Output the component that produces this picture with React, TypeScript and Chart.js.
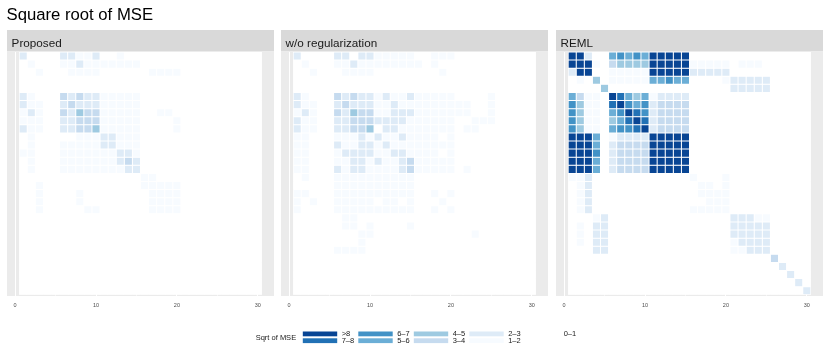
import React, { useEffect, useRef } from 'react';
import { Chart, registerables } from 'chart.js';

Chart.register(...registerables);

const FONT = '"Liberation Sans", Arial, Helvetica, sans-serif';

const MAIN_TITLE = 'Square root of MSE';
const PANEL_TITLES = ['Proposed', 'w/o regularization', 'REML'];
const LEGEND_TITLE = 'Sqrt of MSE';
const LEVEL_LABELS = ['0–1', '1–2', '2–3', '3–4', '4–5', '5–6', '6–7', '7–8', '>8'];
const LEVEL_COLORS = ['#FFFFFF', '#F7FBFF', '#DEEBF7', '#C6DBEF', '#9ECAE1', '#6BAED6', '#4292C6', '#2171B5', '#084594'];
const X_TICKS = [0, 10, 20, 30];
const N_PARAMS = 30;

// Level code per cell (0 = "0–1" ... 8 = ">8"); rows top to bottom, columns 1..30 (missing tail = 0)
const PROPOSED = [
  '20000 22112 00100',
  '01000 11211 11111',
  '00100 01111 00000 01111',
  '',
  '',
  '21000 32322 11111',
  '21100 23222 11111',
  '12100 32433 11111 00110',
  '11100 22333 11111 00001',
  '21100 22334 11111 00001',
  '01000 00111 22111',
  '01000 11111 22111',
  '11000 11111 11221',
  '01000 11111 11232',
  '01000 11111 11122',
  '00000 00000 00000 11',
  '00100 00000 00000 11111',
  '00100 00100 00000 01111',
  '00100 00100 00000 01111',
  '00100 00011 00000 01111',
  '', '', '', '', '', '', '', '', '', '',
];

const WO_REG = [
  '20000 22022 11111 00111',
  '01000 11211 11111 101',
  '00100 01111 00000 0001',
  '',
  '',
  '21000 32322 12112 11111 00001',
  '21100 23222 11211 11111 11001',
  '12100 32433 11222 11111 11001',
  '21100 22333 22221 11111 00111',
  '21100 22334 02211 11111 01100',
  '11000 11121 21121 11101',
  '11000 21122 12111 11111',
  '11000 12222 11221 11101',
  '11000 11221 21123 11111',
  '11000 21221 11123 11111 01',
  '01000 11111 11111',
  '00000 11111 11111',
  '11000 11111 11111 00101',
  '10100 11111 01101 00010',
  '10000 11111 11111 00101',
  '00000 011',
  '00000 01101 00001',
  '00000 00011 00000 00000 001',
  '00000 0001',
  '00000 1111',
  '', '', '', '', '',
];

const REML = [
  '88200 56565 88888',
  '88810 34444 88888 11111 01110',
  '28800 11111 88888 22222',
  '01040 11111 55655 00001 22222',
  '00004 00000 00000 00000 22222',
  '53110 87545 12222',
  '64110 78656 23333',
  '64110 56876 23333',
  '64110 45787 23333',
  '64110 56678 23333',
  '88850 12222 88888',
  '88850 23333 88888',
  '88860 23333 88888',
  '88850 23333 88888',
  '88850 23333 88888',
  '11200 00000 00000 10001',
  '01200 00000 00000 01101',
  '01200 00000 00000 01111',
  '01200 00000 00000 00111',
  '01200 00000 00000 11111',
  '00012 00000 00000 00000 22211',
  '01022 00000 00000 00000 22222',
  '01022 00000 00000 00000 22222',
  '01022 00000 00000 00000 12222',
  '00022 00000 00000 00000 11222',
  '00000 00000 00000 00000 00000 3',
  '00000 00000 00000 00000 00000 02',
  '00000 00000 00000 00000 00000 002',
  '00000 00000 00000 00000 00000 0002',
  '00000 00000 00000 00000 00000 00002',
];

const PANEL_DATA = [PROPOSED, WO_REG, REML];
const PANEL_LEFTS = [7, 281, 556];
const PANEL_W = 267;
const PANEL_TOP = 30;
const PANEL_H = 280;

function parseRow(r: string): number[] {
  return r.replace(/ /g, '').padEnd(N_PARAMS, '0').split('').map(Number);
}

function panelDecor(title: string) {
  return {
    id: 'panelDecor',
    beforeDraw(chart: any) {
      const { ctx, chartArea: a, width } = chart;
      const xs = chart.scales.x;
      const ys = chart.scales.y;
      ctx.save();
      ctx.fillStyle = '#D9D9D9';
      ctx.fillRect(0, 0, width, 21.5);
      ctx.fillStyle = '#EBEBEB';
      ctx.fillRect(a.left, a.top, a.right - a.left, a.bottom - a.top);
      // white backdrop under the tile grid, from the scales
      const x0 = xs.getPixelForValue(0.5);
      const x1 = xs.getPixelForValue(N_PARAMS + 0.5);
      const y0 = ys.getPixelForValue(0.5);
      const y1 = ys.getPixelForValue(N_PARAMS + 0.5);
      ctx.fillStyle = '#FFFFFF';
      ctx.fillRect(x0, Math.min(y0, y1), x1 - x0, Math.abs(y1 - y0));
      ctx.fillStyle = '#1A1A1A';
      ctx.font = `11.7px ${FONT}`;
      ctx.textBaseline = 'alphabetic';
      ctx.textAlign = 'left';
      ctx.fillText(title, 4.6, 16.7);
      ctx.restore();
    },
  };
}

const legendPlugin = {
  id: 'mseLegend',
  afterDraw(chart: any) {
    const ctx = chart.ctx;
    ctx.save();
    ctx.font = `7.5px ${FONT}`;
    ctx.fillStyle = '#1A1A1A';
    ctx.textBaseline = 'middle';
    ctx.textAlign = 'left';
    ctx.fillText(LEGEND_TITLE, 255.7, 337.6);
    const order = [8, 7, 6, 5, 4, 3, 2, 1, 0];
    const keyW = 35.4;
    const keyH = 5.8;
    order.forEach((lvl, k) => {
      const col = Math.floor(k / 2);
      const row = k % 2;
      const x = 302.3 + col * 55.5;
      const y = 331 + row * 6.8;
      ctx.fillStyle = '#FFFFFF';
      ctx.fillRect(x, y, keyW, keyH);
      ctx.fillStyle = LEVEL_COLORS[lvl];
      ctx.fillRect(x + 0.5, y + 0.5, keyW - 1, keyH - 1);
      ctx.fillStyle = '#1A1A1A';
      ctx.fillText(LEVEL_LABELS[lvl], x + 39.4, y + keyH / 2);
    });
    ctx.restore();
  },
};

function Frame() {
  const ref = useRef<HTMLCanvasElement>(null);
  useEffect(() => {
    const chart = new Chart(ref.current as HTMLCanvasElement, {
      type: 'bar',
      data: { labels: [], datasets: [] },
      options: {
        animation: false,
        responsive: false,
        devicePixelRatio: 1,
        layout: { padding: { left: 6.5, top: 0, right: 0, bottom: 0 } },
        scales: { x: { display: false }, y: { display: false } },
        plugins: {
          legend: { display: false },
          tooltip: { enabled: false },
          title: {
            display: true,
            text: MAIN_TITLE,
            align: 'start',
            color: '#000000',
            font: { family: FONT, size: 16.7, weight: 'normal' },
            padding: { top: 5.8, bottom: 0 },
          },
        },
      } as any,
      plugins: [legendPlugin],
    });
    return () => chart.destroy();
  }, []);
  return (
    <canvas
      ref={ref}
      width={830}
      height={360}
      style={{ position: 'absolute', left: 0, top: 0, width: 830, height: 360 }}
    />
  );
}

function Panel({ idx }: { idx: number }) {
  const ref = useRef<HTMLCanvasElement>(null);
  useEffect(() => {
    const rows = PANEL_DATA[idx];
    const datasets = rows.map((r, i) => {
      const codes = parseRow(r);
      return {
        label: `row ${i + 1}`,
        data: codes.map((_c, j) => ({ x: j + 1, y: [i + 0.5, i + 1.5] })),
        backgroundColor: codes.map((c) => LEVEL_COLORS[c]),
        borderColor: '#FFFFFF',
        borderWidth: 0.5,
        borderSkipped: false,
        grouped: false,
        barPercentage: 1,
        categoryPercentage: 1,
        inflateAmount: 0,
      };
    });
    const chart = new Chart(ref.current as HTMLCanvasElement, {
      type: 'bar',
      data: { datasets } as any,
      options: {
        animation: false,
        responsive: false,
        devicePixelRatio: 1,
        layout: { padding: { top: 22, left: 0, right: 0, bottom: 0 }, autoPadding: false },
        plugins: {
          legend: { display: false },
          tooltip: { enabled: false },
          title: { display: false },
        },
        scales: {
          x: {
            type: 'linear',
            min: -1,
            max: 32,
            offset: false,
            afterFit: (s: any) => {
              s.height = 14;
            },
            border: { display: false },
            grid: {
              offset: false,
              color: '#FFFFFF',
              lineWidth: (c: any) => (c.tick && c.tick.value % 10 === 0 ? 1 : 0.5),
              drawTicks: false,
            },
            ticks: {
              stepSize: 5,
              includeBounds: false,
              autoSkip: false,
              maxRotation: 0,
              padding: 6,
              color: '#4D4D4D',
              font: { family: FONT, size: 5.5 },
              callback: (v: any) => (X_TICKS.includes(Number(v)) ? String(v) : ''),
            },
          },
          y: {
            type: 'linear',
            reverse: true,
            min: 0.5,
            max: 30.65,
            display: false,
          },
        },
      } as any,
      plugins: [panelDecor(PANEL_TITLES[idx])],
    });
    return () => chart.destroy();
  }, [idx]);
  return (
    <canvas
      ref={ref}
      width={PANEL_W}
      height={PANEL_H}
      style={{
        position: 'absolute',
        left: PANEL_LEFTS[idx],
        top: PANEL_TOP,
        width: PANEL_W,
        height: PANEL_H,
      }}
    />
  );
}

export default function App() {
  return (
    <div
      style={{
        position: 'absolute',
        left: 0,
        top: 0,
        width: 830,
        height: 360,
        background: '#FFFFFF',
        overflow: 'hidden',
      }}
    >
      <Frame />
      <Panel idx={0} />
      <Panel idx={1} />
      <Panel idx={2} />
    </div>
  );
}
